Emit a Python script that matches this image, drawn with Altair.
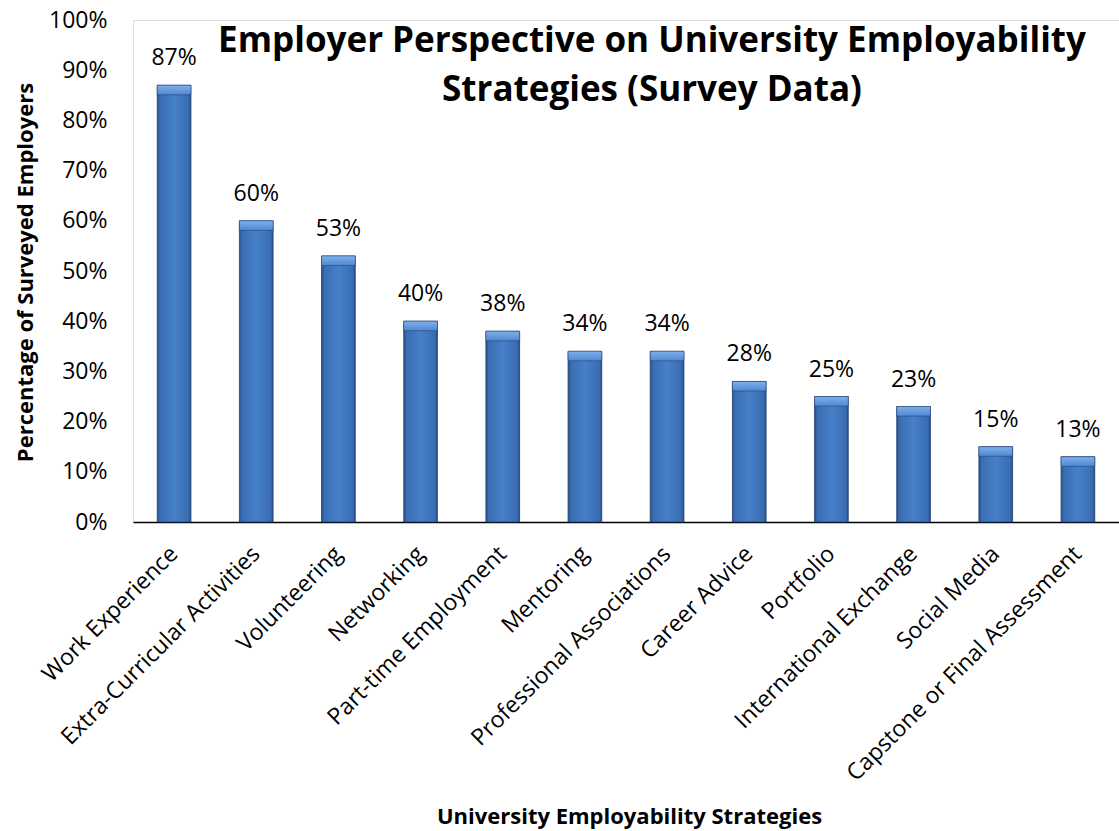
import altair as alt
import pandas as pd

categories = ["Work Experience", "Extra-Curricular Activities", "Volunteering", "Networking",
              "Part-time Employment", "Mentoring", "Professional Associations", "Career Advice",
              "Portfolio", "International Exchange", "Social Media", "Capstone or Final Assessment"]
values = [0.87, 0.60, 0.53, 0.40, 0.38, 0.34, 0.34, 0.28, 0.25, 0.23, 0.15, 0.13]
title_lines = ["Employer Perspective on University Employability", "Strategies (Survey Data)"]
y_title = "Percentage of Surveyed Employers"
x_title = "University Employability Strategies"

df = pd.DataFrame({"category": categories, "value": values})

FONT = "Open Sans"

x_enc = alt.X("category:N", sort=categories,
              scale=alt.Scale(paddingInner=0.59, paddingOuter=0.295),
              axis=alt.Axis(title=x_title, labelAngle=-45, labelAlign="right", labelBaseline="middle",
                            labelFontSize=23, labelPadding=28, labelColor="#000000", labelLimit=500,
                            ticks=False, domainColor="#000000", domainWidth=1.3,
                            titleFontSize=22, titleFontWeight="bold", titleColor="#000000",
                            titleX=496, titleY=301, titleAlign="center", titleBaseline="alphabetic",
                            labelFont=FONT, titleFont=FONT))

y_scale = alt.Scale(domain=[0, 1])

bar_fill = alt.Gradient(gradient="linear", x1=0, y1=0, x2=1, y2=0, stops=[
    alt.GradientStop(offset=0, color="#27508a"),
    alt.GradientStop(offset=0.08, color="#3a6db2"),
    alt.GradientStop(offset=0.5, color="#4680c8"),
    alt.GradientStop(offset=0.92, color="#3a6db2"),
    alt.GradientStop(offset=1, color="#27508a"),
])
cap_fill = alt.Gradient(gradient="linear", x1=0, y1=0, x2=0, y2=1, stops=[
    alt.GradientStop(offset=0, color="#7fb0ee"),
    alt.GradientStop(offset=1, color="#4f88d0"),
])

base = alt.Chart(df).encode(x=x_enc)

bars = base.mark_bar(fill=bar_fill, stroke="#1f3c6e", strokeWidth=0.8).encode(
    y=alt.Y("value:Q", scale=y_scale,
            axis=alt.Axis(title=y_title, format=".0%", values=[i / 10 for i in range(11)],
                          grid=False, domain=False, ticks=False, labelPadding=26,
                          labelFontSize=23, labelColor="#000000", labelFont=FONT,
                          titleFontSize=22, titleFontWeight="bold", titleColor="#000000",
                          titleFont=FONT, titleX=-108, titleY=252, titleAlign="center",
                          titleBaseline="middle", titleAngle=270))
)

caps = base.transform_calculate(cap_bottom="datum.value - 0.019").mark_bar(
    fill=cap_fill, stroke="#1f3c6e", strokeWidth=0.5
).encode(y=alt.Y("value:Q", scale=y_scale), y2="cap_bottom:Q")

labels = base.mark_text(baseline="alphabetic", dy=-20, fontSize=23, font=FONT, color="#000000").encode(
    y=alt.Y("value:Q", scale=y_scale),
    text=alt.Text("value:Q", format=".0%"),
)

title = alt.Chart(alt.Data(values=[{}])).mark_text(
    text=title_lines, fontSize=35, fontWeight="bold", font=FONT, color="#000000",
    align="center", baseline="alphabetic", lineHeight=49
).encode(x=alt.value(519), y=alt.value(32))

chart = alt.layer(bars, caps, labels, title).properties(
    width=986, height=502,
    autosize=alt.AutoSizeParams(type="none"),
    padding={"left": 133, "top": 20, "right": 0, "bottom": 309},
).configure_view(stroke=None).configure(background="white")

chart.save("out.html", embed_options={"renderer": "svg", "actions": False})
